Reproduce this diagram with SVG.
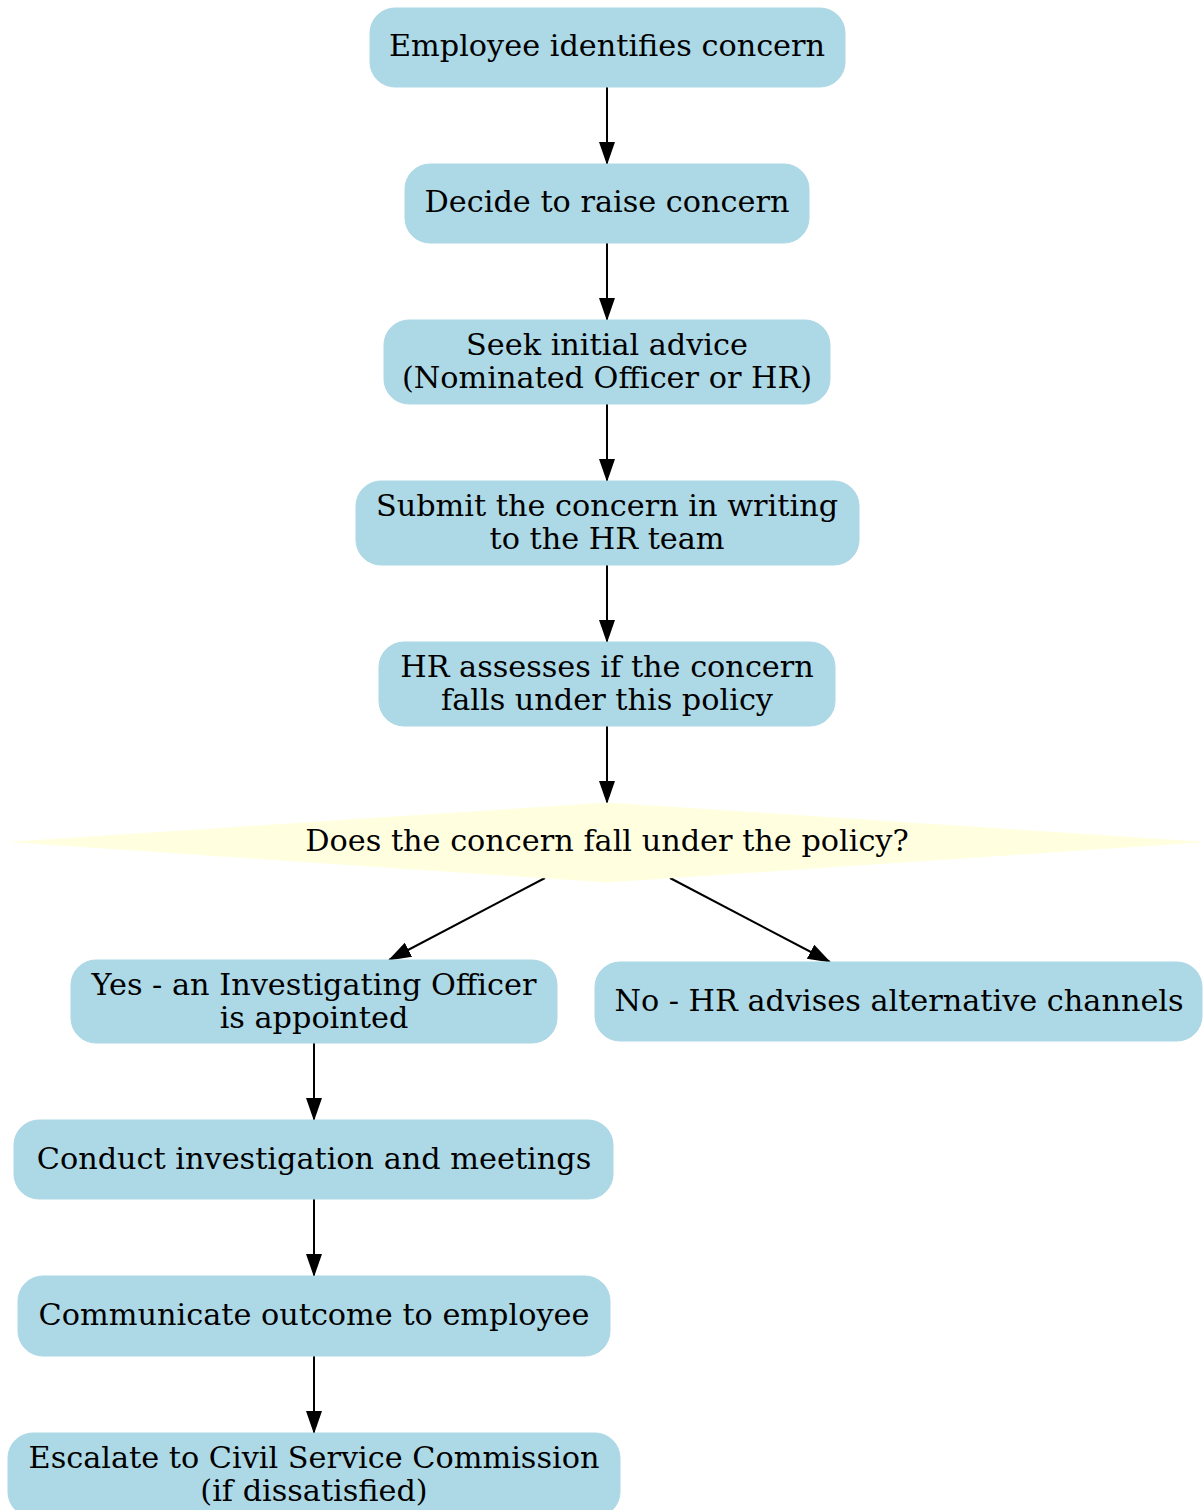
<svg xmlns="http://www.w3.org/2000/svg" width="1203" height="1510" viewBox="0 0 1203 1510">
<style>
.n{fill:#ADD8E6;stroke:#ADD8E6;stroke-width:1}
.d{fill:#FFFFE0;stroke:#FFFFE0}
text{font-family:"DejaVu Serif",serif;font-size:30.3px;fill:#000;text-anchor:middle}
.e{stroke:#000;stroke-width:2;fill:none;marker-end:url(#a)}
</style>
<defs>
<marker id="a" markerUnits="userSpaceOnUse" markerWidth="24" markerHeight="18" refX="22" refY="9" orient="auto">
<path d="M0,1 L23,9 L0,17 Z" fill="#000"/>
</marker>
</defs>
<g id="edges">
<path class="e" d="M607,87 L607,164"/>
<path class="e" d="M607,243 L607,320"/>
<path class="e" d="M607,404 L607,481"/>
<path class="e" d="M607,565 L607,642"/>
<path class="e" d="M607,726 L607,803"/>
<path class="e" d="M545,878 L389,960"/>
<path class="e" d="M670,878 L830,962"/>
<path class="e" d="M314,1043 L314,1120"/>
<path class="e" d="M314,1199 L314,1276"/>
<path class="e" d="M314,1356 L314,1433"/>
</g>
<g id="n1"><rect class="n" x="370" y="8" width="475" height="79" rx="25"/><text x="607" y="56">Employee identifies concern</text></g>
<g id="n2"><rect class="n" x="405" y="164" width="404" height="79" rx="25"/><text x="607" y="212">Decide to raise concern</text></g>
<g id="n3"><rect class="n" x="384" y="320" width="446" height="84" rx="25"/><text x="607" y="355">Seek initial advice</text><text x="607" y="388">(Nominated Officer or HR)</text></g>
<g id="n4"><rect class="n" x="356" y="481" width="503" height="84" rx="25"/><text x="607" y="516">Submit the concern in writing</text><text x="607" y="549">to the HR team</text></g>
<g id="n5"><rect class="n" x="379" y="642" width="456" height="84" rx="25"/><text x="607" y="677">HR assesses if the concern</text><text x="607" y="710">falls under this policy</text></g>
<g id="n6"><polygon class="d" points="607,803 1200,842 607,882 14,842"/><text x="607" y="851">Does the concern fall under the policy?</text></g>
<g id="n7"><rect class="n" x="71" y="960" width="486" height="83" rx="25"/><text x="314" y="995">Yes - an Investigating Officer</text><text x="314" y="1028">is appointed</text></g>
<g id="n8"><rect class="n" x="595" y="962" width="607" height="79" rx="25"/><text x="899" y="1011">No - HR advises alternative channels</text></g>
<g id="n9"><rect class="n" x="14" y="1120" width="599" height="79" rx="25"/><text x="314" y="1169">Conduct investigation and meetings</text></g>
<g id="n10"><rect class="n" x="18" y="1276" width="592" height="80" rx="25"/><text x="314" y="1325">Communicate outcome to employee</text></g>
<g id="n11"><rect class="n" x="8" y="1433" width="612" height="84" rx="25"/><text x="314" y="1468">Escalate to Civil Service Commission</text><text x="314" y="1501">(if dissatisfied)</text></g>
</svg>
